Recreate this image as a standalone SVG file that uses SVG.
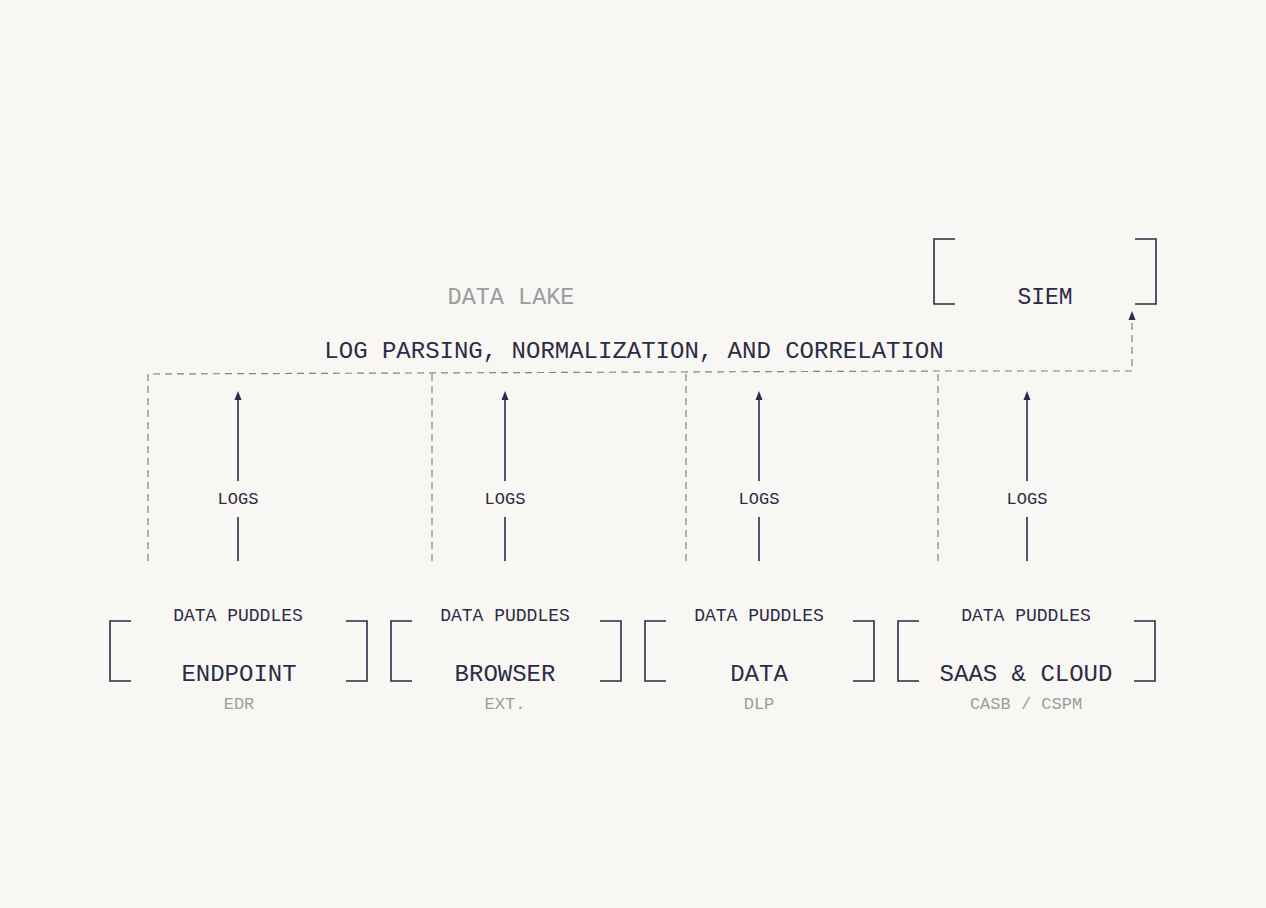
<svg xmlns="http://www.w3.org/2000/svg" width="1266" height="908" viewBox="0 0 1266 908">
<style>
.t{font-family:"Liberation Mono","DejaVu Sans Mono",monospace;fill:#2b2c45;text-anchor:middle}
.g{fill:#9c9ca0}
.br{fill:none;stroke:#2b2c45;stroke-width:1.6}
.ln{stroke:#2b2c45;stroke-width:1.6;fill:none}
.ds{fill:none;stroke:#828282;stroke-width:1.2;stroke-dasharray:7 5}
</style>
<rect width="1266" height="908" fill="#f9f7f3"/>
<g id="data-lake">
<text class="t g" x="511" y="304" font-size="23.5">DATA LAKE</text>
<text class="t" x="634" y="358" font-size="24">LOG PARSING, NORMALIZATION, AND CORRELATION</text>
</g>
<g id="siem">
<path class="br" d="M955,239 H934 V304 H955"/>
<path class="br" d="M1135,239 H1156 V304 H1135"/>
<text class="t" x="1045" y="304" font-size="23">SIEM</text>
</g>
<g id="connectors">
<path class="ds" d="M148,561 V374 L938,371 H1132 V314"/>
<path d="M1128.5,320 L1132,311 L1135.5,320 Z" fill="#2b2c45"/>
<path class="ds" d="M432,561 V373"/>
<path class="ds" d="M686,561 V372"/>
<path class="ds" d="M938,561 V371"/>
<path class="ln" d="M238,561 V517 M238,481 V394"/>
<path d="M234.5,400 L238,391 L241.5,400 Z" fill="#2b2c45"/>
<path class="ln" d="M505,561 V517 M505,481 V394"/>
<path d="M501.5,400 L505,391 L508.5,400 Z" fill="#2b2c45"/>
<path class="ln" d="M759,561 V517 M759,481 V394"/>
<path d="M755.5,400 L759,391 L762.5,400 Z" fill="#2b2c45"/>
<path class="ln" d="M1027,561 V517 M1027,481 V394"/>
<path d="M1023.5,400 L1027,391 L1030.5,400 Z" fill="#2b2c45"/>
<text class="t" x="238" y="504" font-size="17">LOGS</text>
<text class="t" x="505" y="504" font-size="17">LOGS</text>
<text class="t" x="759" y="504" font-size="17">LOGS</text>
<text class="t" x="1027" y="504" font-size="17">LOGS</text>
</g>
<g id="endpoint">
<path class="br" d="M131,621 H110 V681 H131"/>
<path class="br" d="M346,621 H367 V681 H346"/>
<text class="t" x="238" y="621" font-size="18">DATA PUDDLES</text>
<text class="t" x="239" y="681" font-size="24">ENDPOINT</text>
<text class="t g" x="239" y="709" font-size="17">EDR</text>
</g>
<g id="browser">
<path class="br" d="M412,621 H391 V681 H412"/>
<path class="br" d="M600,621 H621 V681 H600"/>
<text class="t" x="505" y="621" font-size="18">DATA PUDDLES</text>
<text class="t" x="505" y="681" font-size="24">BROWSER</text>
<text class="t g" x="505" y="709" font-size="17">EXT.</text>
</g>
<g id="data">
<path class="br" d="M666,621 H645 V681 H666"/>
<path class="br" d="M853,621 H874 V681 H853"/>
<text class="t" x="759" y="621" font-size="18">DATA PUDDLES</text>
<text class="t" x="759" y="681" font-size="24">DATA</text>
<text class="t g" x="759" y="709" font-size="17">DLP</text>
</g>
<g id="saas-cloud">
<path class="br" d="M919,621 H898 V681 H919"/>
<path class="br" d="M1134,621 H1155 V681 H1134"/>
<text class="t" x="1026" y="621" font-size="18">DATA PUDDLES</text>
<text class="t" x="1026" y="681" font-size="24">SAAS &amp; CLOUD</text>
<text class="t g" x="1026" y="709" font-size="17">CASB / CSPM</text>
</g>
</svg>
